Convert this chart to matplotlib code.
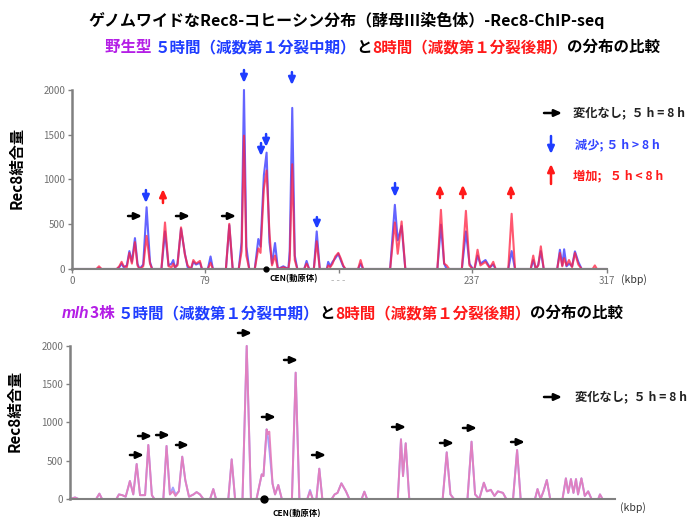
import numpy as np
import matplotlib.pyplot as plt

plt.rcParams['font.family'] = ['Noto Sans CJK JP', 'DejaVu Sans']

# --- 野生型: position (kbp), 5h signal, 8h signal ---
wt_kbp = [0, 14.5, 16, 17.5, 26.5, 28, 29.4, 30.6, 32.5, 34, 35.5, 37.3, 38.8, 40,
          42.2, 44.2, 46.2, 47.5, 53, 55.1, 57.2, 59, 60, 61, 62.5, 64.6, 66.9, 68.5,
          70.5, 71.9, 73.5, 75.8, 77, 80.5, 82.1, 83.5, 91.2, 93.2, 95.2, 98.8, 100.5,
          101.9, 103.3, 105, 108.3, 110.4, 111.7, 113.7, 115.3, 117, 118.5, 120.3, 122,
          125.2, 128.2, 129, 130.5, 132, 133.5, 137.6, 139, 140.5, 143.3, 145, 146.8,
          151, 151.8, 153, 154.4, 156, 157.8, 159.2, 160.7, 162, 169.5, 171, 172.5,
          188.5, 191.3, 193, 195.3, 197.5, 216.5, 218.6, 220.5, 222, 223.5, 231, 233.4,
          235.5, 237.5, 238.5, 240.3, 242, 245, 247.5, 249.6, 251, 258.5, 260.5, 262.5,
          271.8, 273.3, 274.8, 276.3, 277.8, 279.5, 287.5, 289.1, 290.5, 291.6, 293,
          294.5, 296.3, 298, 300, 302, 308.5, 309.8, 311, 317]
wt_5h = [0, 0, 10, 0, 0, 20, 60, 20, 40, 200, 80, 345, 60, 0,
         50, 690, 80, 0, 0, 420, 40, 60, 100, 10, 60, 450, 170, 20,
         0, 80, 50, 70, 0, 0, 140, 0, 0, 490, 0, 0, 300,
         2000, 250, 0, 0, 335, 250, 1050, 1300, 300, 60, 290, 0,
         30, 0, 200, 1800, 150, 0, 0, 90, 0, 0, 420, 0,
         0, 80, 30, 80, 120, 170, 100, 30, 0, 0, 60, 0,
         0, 717, 320, 480, 0, 0, 495, 60, 0, 0, 0, 420,
         60, 0, 0, 150, 60, 100, 20, 50, 0, 0, 200, 0,
         0, 100, 0, 50, 200, 0, 0, 215, 40, 220, 30,
         60, 30, 197, 80, 0, 0, 0, 0, 0]
wt_8h = [0, 0, 30, 0, 0, 30, 80, 30, 20, 180, 60, 300, 40, 0,
         30, 370, 60, 0, 0, 520, 30, 20, 60, 20, 40, 465, 160, 40,
         0, 100, 60, 90, 0, 0, 70, 0, 0, 505, 0, 0, 200,
         1490, 150, 0, 0, 230, 180, 900, 1100, 400, 40, 150, 0,
         20, 0, 100, 1170, 100, 0, 0, 60, 0, 0, 310, 0,
         0, 40, 20, 60, 140, 180, 120, 40, 0, 0, 100, 0,
         0, 520, 170, 531, 0, 0, 661, 60, 40, 0, 0, 650,
         40, 0, 0, 215, 40, 80, 10, 80, 0, 0, 617, 0,
         0, 150, 0, 40, 253, 0, 0, 180, 30, 120, 40,
         100, 20, 180, 50, 0, 0, 40, 0, 0]

# --- mlh3株 ---
mlh_kbp = [0, 3, 5, 15.5, 17.4, 19, 27.5, 29, 31, 33, 35.5, 37.5, 39.5, 41.5, 44.5,
           46.4, 48.5, 50, 55.3, 57.2, 59.2, 61, 62.5, 64.5, 66.5, 68.3, 70.5, 73.2,
           75, 77, 79, 83, 84.9, 86.5, 93.8, 95.8, 97.8, 102.2, 104.7, 107.2, 110.5,
           113.6, 114.6, 116.5, 117.3, 118.1, 120, 121.5, 123.4, 125.5, 131.5, 133.7,
           135.9, 140.6, 142.2, 143.8, 146, 147.7, 149.5, 155, 156.8, 158.5, 160.8,
           163.5, 165.5, 172.8, 174.4, 176, 194.2, 196.1, 197.3, 198.9, 201, 220.8,
           223.2, 225.4, 227.5, 235.5, 237.9, 240, 242.5, 245.2, 247, 249.3, 251.5,
           253.5, 256.5, 258.5, 262.5, 264.9, 267, 275.5, 277, 278.8, 280.5, 282.5,
           284.5, 291.8, 293.8, 295.2, 296.8, 298.3, 299.8, 301, 303, 305, 307, 309,
           313, 314, 315.5, 322]
mlh_5h = [0, 20, 0, 0, 70, 0, 0, 60, 50, 30, 235, 60, 457, 50, 50,
          706, 50, 0, 0, 693, 60, 150, 60, 100, 553, 248, 30, 60,
          90, 60, 0, 0, 130, 0, 0, 518, 0, 0, 2000, 0, 0,
          322, 300, 910, 800, 650, 200, 60, 183, 0, 0, 1651,
          0, 0, 118, 0, 0, 396, 0, 0, 60, 80, 205,
          100, 0, 0, 96, 0, 0, 780, 300, 728, 0, 0,
          610, 60, 0, 0, 749, 60, 0, 213, 100, 120, 40,
          100, 80, 0, 0, 640, 0, 0, 130, 0, 100, 248,
          0, 0, 270, 80, 260, 80, 260, 60, 270, 40, 100, 0,
          0, 60, 0, 0]
mlh_8h = [0, 20, 0, 0, 70, 0, 0, 60, 50, 30, 235, 60, 457, 50, 50,
          706, 50, 0, 0, 693, 60, 100, 40, 100, 553, 248, 30, 60,
          90, 60, 0, 0, 130, 0, 0, 518, 0, 0, 2000, 0, 0,
          322, 300, 910, 850, 880, 200, 60, 183, 0, 0, 1651,
          0, 0, 100, 0, 0, 396, 0, 0, 60, 80, 205,
          100, 0, 0, 96, 0, 0, 780, 300, 728, 0, 0,
          610, 60, 0, 0, 749, 60, 0, 213, 100, 120, 40,
          100, 80, 0, 0, 640, 0, 0, 130, 0, 100, 248,
          0, 0, 270, 80, 260, 80, 260, 60, 270, 40, 100, 0,
          0, 60, 0, 0]

cen_kbp = 115

# arrows: (x_from, x_to, y) for "no change", (x, y_tail, y_head) for up/down
wt_flat = [(33.2, 41.5, 592), (61.6, 69.9, 592), (88.9, 97.2, 592)]
wt_down = [(43.8, 882, 737), (101.9, 2223, 2078), (112.0, 1407, 1262),
           (115.0, 1508, 1363), (130.3, 2200, 2055), (145.1, 580, 447),
           (191.4, 960, 804)]
wt_up = [(53.9, 737, 893), (218.0, 793, 940), (231.6, 793, 940), (260.1, 793, 940)]
mlh_flat = [(35.5, 43.8, 575), (40.3, 48.6, 823), (51.0, 59.2, 836), (62.8, 70.5, 706),
            (99.5, 107.8, 2170), (113.7, 122.0, 1072), (126.8, 135.1, 1817),
            (143.4, 151.7, 575), (190.8, 199.1, 941), (219.2, 227.5, 732),
            (232.8, 241.1, 928), (261.3, 269.5, 745)]

BLUE = '#1f3dff'
RED = '#ff1a1a'
PURPLE = '#b41ee6'
ARROW = '-|>,head_length=0.55,head_width=0.25'

fig = plt.figure(figsize=(6.92, 5.17), dpi=100)
W, H = 692, 517


def style_axis(ax):
    for s in ['top', 'right']:
        ax.spines[s].set_visible(False)
    ax.spines['left'].set_color('#808080')
    ax.spines['left'].set_linewidth(1.8)
    ax.spines['left'].set_bounds(0, 2000)
    ax.spines['bottom'].set_color('#808080')
    ax.spines['bottom'].set_linewidth(1.5)
    ax.set_yticks([0, 500, 1000, 1500, 2000])
    ax.tick_params(axis='y', labelsize=7, colors='#808080', labelcolor='#707070',
                   length=3, width=1, pad=2)
    ax.tick_params(axis='x', labelsize=7, colors='#808080', labelcolor='#707070',
                   length=3, width=1, pad=2)
    ax.set_ylabel('Rec8結合量', fontsize=11, fontweight='bold', labelpad=13)


def arrows(ax, flat=(), down=(), up=()):
    kw = dict(arrowstyle=ARROW, lw=1.8, shrinkA=0, shrinkB=0, mutation_scale=8)
    for x0, x1, y in flat:
        ax.annotate('', xy=(x1, y), xytext=(x0, y), annotation_clip=False,
                    arrowprops=dict(color='black', **kw))
    for x, y0, y1 in down:
        ax.annotate('', xy=(x, y1), xytext=(x, y0), annotation_clip=False,
                    arrowprops=dict(color=BLUE, **kw))
    for x, y0, y1 in up:
        ax.annotate('', xy=(x, y1), xytext=(x, y0), annotation_clip=False,
                    arrowprops=dict(color=RED, **kw))


# top panel: wild type
ax1 = fig.add_axes([72 / W, (H - 269) / H, 535 / W, 201.4 / H])
ax1.plot(wt_kbp, wt_5h, color='#3030ff', lw=1.5, alpha=0.75)
ax1.plot(wt_kbp, wt_8h, color='#ff2040', lw=1.5, alpha=0.75)
ax1.set_xlim(0, 317)
ax1.set_ylim(0, 2250)
style_axis(ax1)
ax1.set_xticks([0, 79, 158, 237, 317])
ax1.set_xticklabels(['0', '79', '- - -', '237', '317'])
ax1.get_xticklabels()[2].set_color('#b0b0b0')
ax1.plot([cen_kbp], [0], 'o', color='black', ms=3.5, clip_on=False, zorder=5)
ax1.text(cen_kbp + 2, -60, 'CEN(動原体)', fontsize=6, fontweight='bold',
         ha='left', va='top')
ax1.text(325, -55, '(kbp)', fontsize=7.5, color='#333333', ha='left', va='top')
arrows(ax1, wt_flat, wt_down, wt_up)

# bottom panel: mlh3
ax2 = fig.add_axes([70 / W, (H - 499) / H, 545 / W, 176 / H])
ax2.plot(mlh_kbp, mlh_5h, color='#8c8cff', lw=1.4, alpha=0.8)
ax2.plot(mlh_kbp, mlh_8h, color='#e47fbd', lw=1.4, alpha=0.95)
ax2.set_xlim(0, 322.9)
ax2.set_ylim(0, 2300)
style_axis(ax2)
ax2.set_xticks([])
ax2.plot([cen_kbp], [0], 'o', color='black', ms=5, clip_on=False, zorder=5)
ax2.text(cen_kbp + 5, -130, 'CEN(動原体)', fontsize=6, fontweight='bold',
         ha='left', va='top')
ax2.text(326, -45, '(kbp)', fontsize=7.5, color='#333333', ha='left', va='top')
arrows(ax2, mlh_flat)

renderer = fig.canvas.get_renderer()


def colored_line(x_px, y_px, parts, size):
    x = x_px
    for txt, col, extra in parts:
        t = fig.text(x / W, 1 - y_px / H, txt, color=col, fontsize=size,
                     fontweight='bold', va='center', ha='left', **extra)
        x += t.get_window_extent(renderer).width


colored_line(88, 20, [('ゲノムワイドなRec8-コヒーシン分布（酵母III染色体）-Rec8-ChIP-seq', 'black', {})], 11.5)
colored_line(105, 47, [('野生型 ', PURPLE, {}),
                       ('５時間（減数第１分裂中期）', BLUE, {}),
                       ('と', 'black', {}),
                       ('8時間（減数第１分裂後期）', RED, {}),
                       ('の分布の比較', 'black', {})], 11.2)
colored_line(62, 313, [('mlh', PURPLE, {'fontstyle': 'italic', 'family': 'Liberation Sans'}),
                       ('3株 ', PURPLE, {}),
                       ('５時間（減数第１分裂中期）', BLUE, {}),
                       ('と', 'black', {}),
                       ('8時間（減数第１分裂後期）', RED, {}),
                       ('の分布の比較', 'black', {})], 11.2)


def fig_arrow(x0, y0, x1, y1, color):
    fig.add_artist(plt.matplotlib.patches.FancyArrowPatch(
        (x0 / W, 1 - y0 / H), (x1 / W, 1 - y1 / H), transform=fig.transFigure,
        arrowstyle=ARROW, mutation_scale=8, lw=1.8, color=color,
        shrinkA=0, shrinkB=0))


# legends
fig_arrow(544, 113, 562, 113, 'black')
fig.text(573 / W, 1 - 113 / H, '変化なし;  ５ h = 8 h', fontsize=8.8, fontweight='bold',
         color='#222222', va='center')
fig_arrow(551, 136, 551, 154, BLUE)
fig.text(575 / W, 1 - 145 / H, '減少; ５ h > 8 h', fontsize=8.8, fontweight='bold',
         color='#3344ff', va='center')
fig_arrow(551, 184, 551, 164, RED)
fig.text(573 / W, 1 - 176 / H, '増加;   ５ h < 8 h', fontsize=8.8, fontweight='bold',
         color=RED, va='center')

fig_arrow(544, 397, 562, 397, 'black')
fig.text(575 / W, 1 - 397 / H, '変化なし;  ５ h = 8 h', fontsize=8.8, fontweight='bold',
         color='#222222', va='center')

fig.savefig('out.png', dpi=100)
